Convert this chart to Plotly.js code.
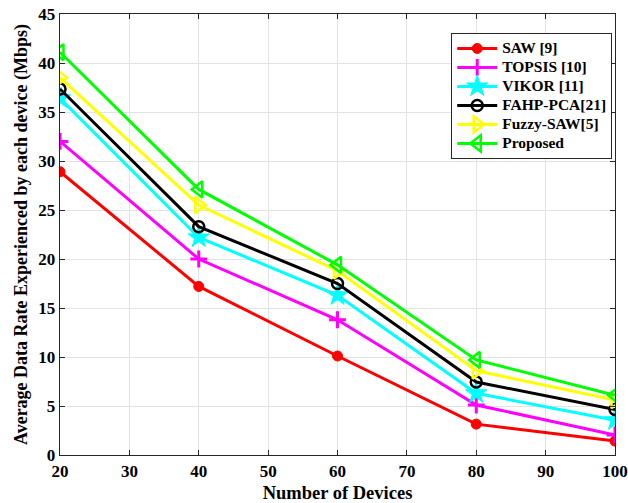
<!DOCTYPE html>
<html>
<head>
<meta charset="utf-8">
<script src="https://cdn.plot.ly/plotly-3.0.1.min.js"></script>
<style>html,body{margin:0;padding:0;background:#fff;}#chart{width:628px;height:503px;}</style>
</head>
<body>
<div id="chart"></div>
<script>
const devices = [20, 40, 60, 80, 100];
const saw = [28.9, 17.2, 10.1, 3.15, 1.42];
const topsis = [32.0, 20.0, 13.8, 5.1, 2.05];
const vikor = [36.4, 22.2, 16.3, 6.3, 3.55];
const fahp = [37.35, 23.3, 17.5, 7.45, 4.65];
const fuzzySaw = [38.5, 25.5, 18.8, 8.6, 5.6];
const proposed = [41.1, 27.1, 19.4, 9.7, 6.1];
const seriesNames = ['SAW [9]', 'TOPSIS [10]', 'VIKOR [11]', 'FAHP-PCA[21]', 'Fuzzy-SAW[5]', 'Proposed'];
const yTicks = [0, 5, 10, 15, 20, 25, 30, 35, 40, 45];
const xTicks = [20, 30, 40, 50, 60, 70, 80, 90, 100];

const font = 'Liberation Serif, Times New Roman, serif';
function tr(y, name, color, symbol, size, mlw) {
  return {
    x: devices, y: y, name: '<span style="font-size:15.5px"><b>' + name + '</b></span>',
    type: 'scatter', mode: 'lines+markers',
    line: {color: color, width: 3},
    marker: {symbol: symbol, size: size, color: color, line: {color: color, width: mlw}}
  };
}
const data = [
  tr(saw, seriesNames[0], '#ff0000', 'circle', 10, 1),
  tr(topsis, seriesNames[1], '#ff00ff', 'cross-thin-open', 12, 3),
  tr(vikor, seriesNames[2], '#00ffff', 'star', 16, 1),
  tr(fahp, seriesNames[3], '#000000', 'circle-open', 11, 2.5),
  tr(fuzzySaw, seriesNames[4], '#ffff00', 'triangle-right-open', 14, 2.5),
  tr(proposed, seriesNames[5], '#00ff00', 'triangle-left-open', 14, 2.5)
];
const axisCommon = {
  showline: true, linecolor: '#262626', linewidth: 1.3, mirror: 'ticks',
  ticks: 'inside', ticklen: 5, tickcolor: '#262626', tickwidth: 1,
  showgrid: true, gridcolor: '#e3e3e3', gridwidth: 1, zeroline: false,
  tickfont: {family: font, size: 17, color: '#000'}
};
const layout = {
  width: 628, height: 503,
  margin: {l: 60, r: 13, t: 14, b: 48},
  paper_bgcolor: '#fff', plot_bgcolor: '#fff',
  font: {family: font, color: '#000'},
  xaxis: Object.assign({}, axisCommon, {
    range: [20, 100], tickvals: xTicks, ticktext: xTicks.map(v => '<b>' + v + '</b>'),
    title: {text: '<b>Number of Devices</b>', font: {family: font, size: 18.5}, standoff: 7}
  }),
  yaxis: Object.assign({}, axisCommon, {
    range: [0, 45], tickvals: yTicks, ticktext: yTicks.map(v => '<b>' + v + '</b>'),
    title: {text: '<b>Average Data Rate Experienced by each device (Mbps)</b>', font: {family: font, size: 18}, standoff: 6}
  }),
  legend: {
    x: 0.995, y: 0.957, xanchor: 'right', yanchor: 'top',
    bgcolor: '#fff', bordercolor: '#262626', borderwidth: 1,
    font: {family: font, size: 12.2, color: '#000'},
    tracegroupgap: 0, itemwidth: 40
  },
  showlegend: true
};
Plotly.newPlot('chart', data, layout, {displayModeBar: false, staticPlot: true});
</script>
</body>
</html>
